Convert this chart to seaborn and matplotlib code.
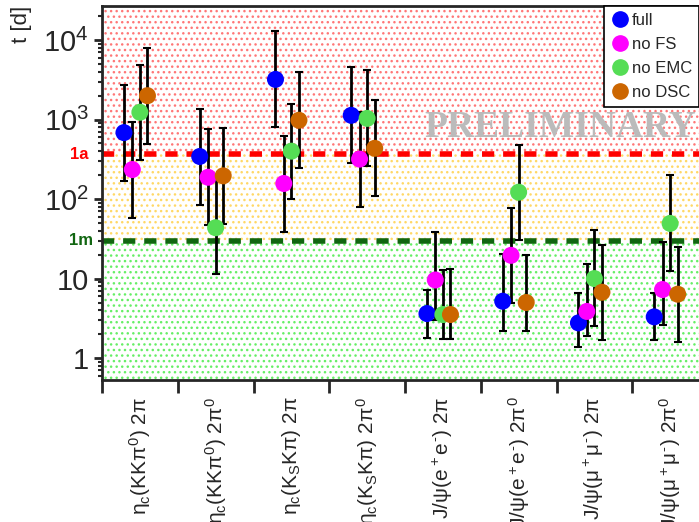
import numpy as np
import pandas as pd
import matplotlib
matplotlib.use("Agg")
import matplotlib.pyplot as plt
import seaborn as sns
from matplotlib.ticker import FixedLocator, FixedFormatter, LogLocator, NullFormatter

# channels on the x axis
channels = [
    r"$\eta_c(KK\pi^0)$ 2$\pi$",
    r"$\eta_c(KK\pi^0)$ 2$\pi^0$",
    r"$\eta_c(K_SK\pi)$ 2$\pi$",
    r"$\eta_c(K_SK\pi)$ 2$\pi^0$",
    r"J/$\psi(e^+e^{\text{-}})$ 2$\pi$",
    r"J/$\psi(e^+e^{\text{-}})$ 2$\pi^0$",
    r"J/$\psi(\mu^+\mu^{\text{-}})$ 2$\pi$",
    r"J/$\psi(\mu^+\mu^{\text{-}})$ 2$\pi^0$",
]

series = ["full", "no FS", "no EMC", "no DSC"]

# time in days, with upper and lower end of the error bar
full_t = [685, 343, 3200, 1130, 3.63, 5.19, 2.77, 3.3]
full_hi = [2750, 1370, 13000, 4570, 7.2, 20.5, 6.6, 6.6]
full_lo = [171, 85, 807, 285, 1.8, 2.2, 1.37, 1.67]

nofs_t = [235, 188, 157, 318, 9.6, 19.6, 3.86, 7.28]
nofs_hi = [937, 753, 620, 1260, 38, 77.6, 15.2, 28.5]
nofs_lo = [58.6, 47.6, 39, 79, 3.0, 4.9, 1.89, 2.62]

noemc_t = [1235, 43.6, 400, 1035, 3.53, 122, 10, 49.4]
noemc_hi = [4900, 176, 1590, 4150, 12.9, 484, 40.4, 198]
noemc_lo = [314, 11.3, 100, 258, 1.75, 30.9, 2.52, 12.4]

nodsc_t = [1995, 196, 980, 435, 3.53, 5.0, 6.73, 6.36]
nodsc_hi = [7930, 776, 3970, 1740, 13.2, 19.6, 26.8, 24.9]
nodsc_lo = [494, 49, 244, 109, 1.76, 2.16, 1.7, 1.6]

year = 365
month = 30

colors = {"full": "#0000ff", "no FS": "#ff00ff", "no EMC": "#55dd55", "no DSC": "#cc6600"}
offsets = {"full": -0.21, "no FS": -0.1, "no EMC": 0.0, "no DSC": 0.1}

rows = []
for name, t, hi, lo in [("full", full_t, full_hi, full_lo),
                        ("no FS", nofs_t, nofs_hi, nofs_lo),
                        ("no EMC", noemc_t, noemc_hi, noemc_lo),
                        ("no DSC", nodsc_t, nodsc_hi, nodsc_lo)]:
    for i in range(len(channels)):
        rows.append({"series": name, "x": i + offsets[name], "t": t[i], "hi": hi[i], "lo": lo[i]})
df = pd.DataFrame(rows)

sns.set_style("ticks")
plt.rcParams["font.family"] = ["Liberation Sans", "DejaVu Sans"]
plt.rcParams["mathtext.fontset"] = "custom"
plt.rcParams["mathtext.rm"] = "Liberation Sans"
plt.rcParams["mathtext.it"] = "Liberation Sans"
plt.rcParams["mathtext.bf"] = "Liberation Sans:bold"
plt.rcParams["hatch.linewidth"] = 1.0

fig = plt.figure(figsize=(6.99, 5.22), dpi=100)
ax = fig.add_axes([102 / 699, 142 / 522, 606 / 699, 374 / 522])
ax.set_yscale("log")
ymin, ymax = 0.53, 26800
ax.set_ylim(ymin, ymax)
ax.set_xlim(-0.5, len(channels) - 0.5)

# coloured background regions
ax.axhspan(year, ymax, facecolor="none", edgecolor="#ff7777", hatch="...", lw=0, zorder=0)
ax.axhspan(month, year, facecolor="none", edgecolor="#ffd866", hatch="...", lw=0, zorder=0)
ax.axhspan(ymin, month, facecolor="none", edgecolor="#66ee66", hatch="...", lw=0, zorder=0)

ax.axhline(year, color="#ff0000", lw=4, ls=(0, (2.2, 1.6)), zorder=1)
ax.axhline(month, color="#116611", lw=4, ls=(0, (2.2, 1.6)), zorder=1)
ax.text(-0.023, year, "1a", transform=ax.get_yaxis_transform(), color="#ff0000",
        fontsize=12, fontweight="bold", ha="right", va="center")
ax.text(-0.015, month, "1m", transform=ax.get_yaxis_transform(), color="#116611",
        fontsize=12, fontweight="bold", ha="right", va="center")

for name in series:
    d = df[df["series"] == name]
    ax.errorbar(d["x"], d["t"], yerr=[d["t"] - d["lo"], d["hi"] - d["t"]],
                fmt="none", ecolor="black", elinewidth=2, capsize=3, capthick=1.5, zorder=3)

sns.scatterplot(data=df, x="x", y="t", hue="series", palette=colors, hue_order=series,
                s=150, edgecolor="none", ax=ax, zorder=4, legend=False)

ax.text(594 / 606, 1 - (128 - 6) / 374, "PRELIMINARY", transform=ax.transAxes,
        fontsize=27, fontweight="bold", family="Liberation Serif", color="#bbbbbb",
        ha="right", va="center", zorder=2)

# legend
handles = [plt.Line2D([], [], marker="o", ls="none", color=colors[n], markersize=11) for n in series]
leg = fig.legend(handles, series, loc="upper right", bbox_to_anchor=(1.0, 1 - 6 / 522),
                 borderaxespad=0, frameon=True, fancybox=False, fontsize=12,
                 handletextpad=0.1, labelspacing=0.55, borderpad=0.4, handlelength=1.2)
leg.get_frame().set_edgecolor("black")
leg.get_frame().set_linewidth(1.2)
leg.get_frame().set_alpha(1)

# axes
ax.yaxis.set_major_locator(FixedLocator([1, 10, 100, 1000, 10000]))
ax.yaxis.set_major_formatter(FixedFormatter(["1", "10", r"$10^2$", r"$10^3$", r"$10^4$"]))
ax.yaxis.set_minor_locator(LogLocator(base=10, subs=np.arange(2, 10)))
ax.yaxis.set_minor_formatter(NullFormatter())
ax.tick_params(axis="y", which="major", labelsize=21, length=6, width=2, direction="out")
ax.tick_params(axis="y", which="minor", length=3, width=1.5, direction="out")

ax.set_xticks(np.arange(-0.5, len(channels)), labels=[""] * (len(channels) + 1))
ax.set_xticks(np.arange(len(channels)), labels=channels, minor=True)
ax.tick_params(axis="x", which="major", length=9, width=2, direction="out")
ax.tick_params(axis="x", which="minor", length=0, labelsize=15, labelrotation=90, pad=12)

ax.set_xlabel("")
ax.set_ylabel("t [d]", fontsize=16)
ax.yaxis.set_label_coords(-0.115, 0.952)

for s in ax.spines.values():
    s.set_linewidth(2)

fig.savefig("out.png", dpi=100)
